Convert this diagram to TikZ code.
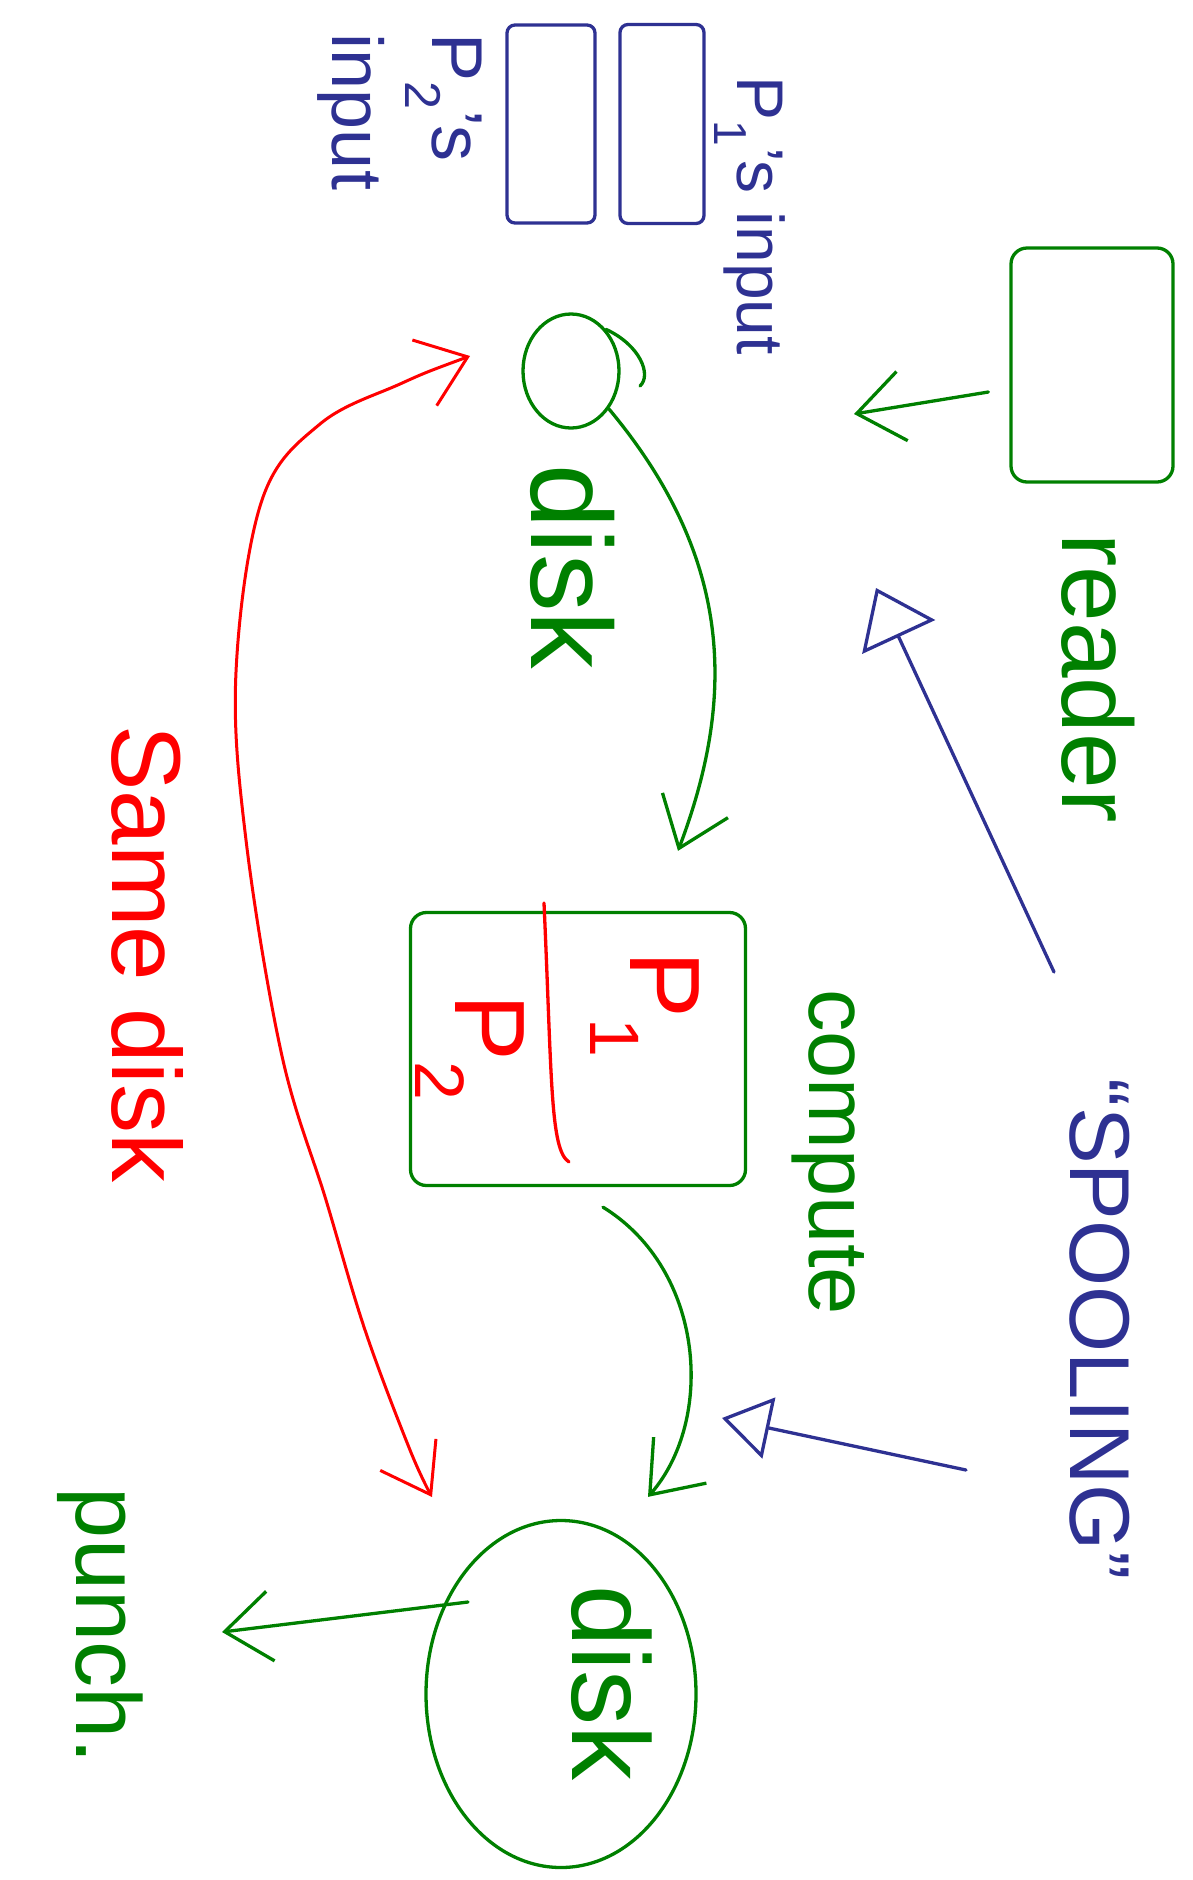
\documentclass[tikz,border=0pt]{standalone}
\usepackage{fontspec}
\setmainfont{Liberation Sans}
\usetikzlibrary{arrows.meta,shapes.geometric,calc}
\definecolor{pblue}{RGB}{46,49,146}
\definecolor{pgreen}{RGB}{0,128,0}
\definecolor{pred}{RGB}{255,0,0}
\newcommand{\fsz}[1]{\fontsize{#1}{#1}\selectfont}
\begin{document}
\begin{tikzpicture}[x=1pt,y=-1pt,
  pen/.style={line width=3.3pt, line cap=round, line join=round},
  lbl/.style={rotate=-90, inner sep=0pt, anchor=center},
  bshape/.style={pen, draw=pblue, rounded corners=8pt, inner sep=0pt},
  gshape/.style={pen, draw=pgreen, rounded corners=16pt, inner sep=0pt},
  gell/.style={ellipse, pen, draw=pgreen, inner sep=0pt},
  gbarb/.style={-{Straight Barb[length=46pt,width=70pt,line width=3.3pt]}},
  btri/.style={-{Triangle[open,length=54pt,width=80pt,line width=3.3pt,fill=white]}},
  rbarb/.style={{Straight Barb[length=46pt,width=70pt,line width=3pt]}-{Straight Barb[length=46pt,width=64pt,line width=3pt]}}
]
\useasboundingbox (0,0) rectangle (1192,1880);

% input boxes
\node[bshape, minimum width=88pt, minimum height=198pt] (p2box) at (551,124) {};
\node[bshape, minimum width=84pt, minimum height=199pt] (p1box) at (662,124) {};
\node[lbl, text=pblue, font=\fsz{66}] (p1lab) at (750,216) {P\textsubscript{1}'s input};
\node[lbl, text=pblue, font=\fsz{72}, align=left] (p2lab) at (400,112) {P\textsubscript{2}'s\\[20pt]input};

% reader
\node[gshape, minimum width=162pt, minimum height=234pt] (reader) at (1092,365) {};
\node[lbl, text=pgreen, font=\fsz{100}] (readerlab) at (1098,678) {reader};
\coordinate (rdend) at (854,414);
\draw[pen, draw=pgreen, gbarb] ($(reader.west)+(-21,27)$) -- (rdend);

% first disk
\node[gell, minimum width=96pt, minimum height=114pt] (disk1) at (571,371) {};
\draw[pen, draw=pgreen] (disk1.50) .. controls (640,345) and (652,375) .. (640,386);
\node[lbl, text=pgreen, font=\fsz{115}] (disk1lab) at (573,567) {disk};

% compute box
\node[gshape, minimum width=335pt, minimum height=273pt] (cpu) at (578,1049) {};
\coordinate (divt) at (544,903);
\coordinate (divb) at (569,1162);
\draw[pen, draw=pred] (divt) .. controls (552,1080) and (550,1150) .. (divb);
\node[lbl, text=pred, font=\fsz{100}] (lp1) at (645,1005) {P\textsubscript{1}};
\node[lbl, text=pred, font=\fsz{100}] (lp2) at (470,1048) {P\textsubscript{2}};
\node[lbl, text=pgreen, font=\fsz{85}] (cpulab) at (828,1152) {compute};

% arrows disk1 -> cpu -> disk2
\draw[pen, draw=pgreen, gbarb] (disk1.-45) .. controls (735,560) and (735,700) .. ($(cpu.north)+(100,-60)$);
\node[gell, minimum width=270pt, minimum height=347pt] (disk2) at (561,1694) {};
\draw[pen, draw=pgreen, gbarb] ($(cpu.south)+(25,20)$) .. controls (705,1270) and (715,1420) .. ($(disk2.north)+(87,-22)$);
\node[lbl, text=pgreen, font=\fsz{110}] (disk2lab) at (612,1683) {disk};

% punch
\coordinate (pnend) at (222,1632);
\draw[pen, draw=pgreen, gbarb] ($(disk2.center)+(-93,-92)$) -- (pnend);
\node[lbl, text=pgreen, font=\fsz{92}] (punchlab) at (100,1626) {punch.};

% spooling
\node[lbl, text=pblue, font=\fsz{85}] (spool) at (1100,1329) {“SPOOLING”};
\coordinate (sp1s) at (1054,972);
\coordinate (sp1e) at (876,588);
\coordinate (sp2s) at (966,1470);
\coordinate (sp2e) at (722,1418);
\draw[pen, draw=pblue, btri] (sp1s) -- (sp1e);
\draw[pen, draw=pblue, -{Triangle[open,length=48pt,width=62pt,line width=3.3pt,fill=white]}] (sp2s) -- (sp2e);

% same disk
\coordinate (sdtop) at (470,356);
\coordinate (sdbot) at (432,1497);
\draw[pen, line width=3pt, draw=pred, rbarb] plot[smooth, tension=0.6] coordinates {(sdtop) (400,384) (320,424) (262,500) (236,672) (246,840) (282,1056) (326,1200) (365,1330) (410,1450) (sdbot)};
\node[lbl, text=pred, font=\fsz{98}] (samelab) at (148,954) {Same disk};
\end{tikzpicture}
\end{document}
